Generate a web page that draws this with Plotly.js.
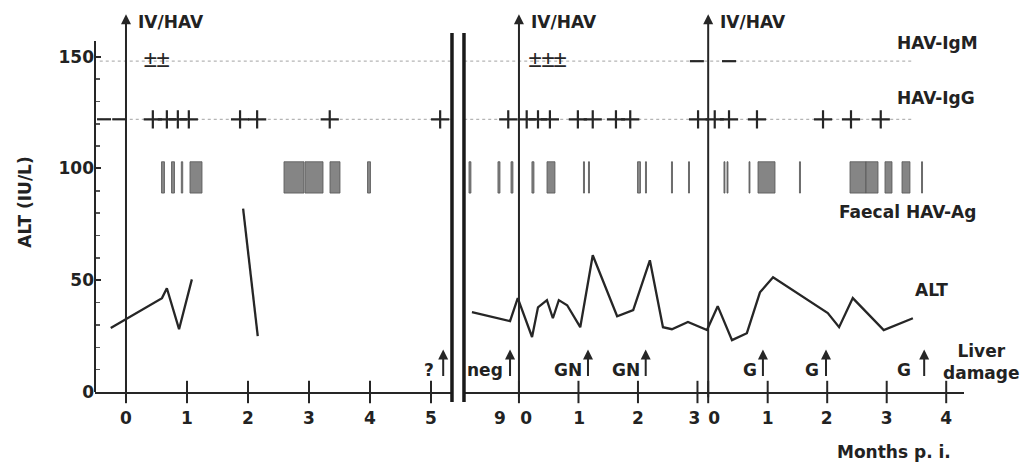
<!DOCTYPE html>
<html><head><meta charset="utf-8">
<script src="https://cdn.plot.ly/plotly-3.0.1.min.js"></script>
<style>html,body{margin:0;padding:0;background:#fff;}#chart{width:1021px;height:465px;}</style>
</head><body><div id="chart"></div>
<script>
// ---------------- data ----------------
// Segment 1: months after 1st IV/HAV inoculation
const alt1aMonths = [-0.25, 0.59, 0.67, 0.87, 1.08];
const alt1aValues = [28.6, 42.0, 46.4, 28.1, 50.4];
const alt1bMonths = [1.92, 2.16];
const alt1bValues = [82.0, 25.0];
// Segment 2: months after 2nd IV/HAV inoculation (3rd inoculation at 3.18)
const alt2Months = [-0.79,-0.15,-0.02,0.22,0.32,0.47,0.57,0.67,0.81,1.03,1.24,1.65,1.92,2.20,2.42,2.57,2.84,3.16,3.34,3.58,3.83,4.05,4.27,5.19,5.38,5.61,6.13,6.62];
const alt2Values = [35.7,31.7,42.0,24.6,37.9,41.1,33.0,41.1,38.8,29.0,61.2,33.9,36.6,58.9,29.0,28.1,31.3,27.7,38.4,23.2,26.3,44.6,51.3,35.3,29.0,42.0,27.7,33.0];
const inoculations1 = [0];
const inoculations2 = [0, 3.18];
// HAV-IgG results
const iggPos1 = [0.44,0.67,0.85,1.03,1.87,2.15,3.34,5.15];
const iggNeg1 = [-0.36,-0.11];
const iggPos2 = [-0.18,0.13,0.32,0.52,0.99,1.24,1.63,1.87,3.01,3.29,3.53,4.00,5.11,5.58,6.08];
// HAV-IgM results
const igmEq1 = [0.40,0.61];
const igmEq2 = [0.27,0.49,0.69];
const igmNeg2 = [2.99,3.53];
// Faecal HAV-Ag positive periods (start, end in months)
const agStart1 = [0.582,0.746,0.907,1.049,2.590,2.934,3.344,3.959];
const agEnd1   = [0.631,0.795,0.930,1.246,2.918,3.230,3.508,4.008];
const agStart2 = [-0.840,-0.353,-0.134,0.218,0.471,1.084,1.168,1.992,2.126,2.563,2.849,3.445,3.496,3.866,4.017,4.714,5.563,5.832,6.151,6.437,6.765];
const agEnd2   = [-0.807,-0.319,-0.101,0.252,0.605,1.101,1.185,2.042,2.143,2.580,2.866,3.462,3.513,3.882,4.303,4.731,5.832,6.034,6.269,6.571,6.782];
// Liver damage (biopsy) markers
const liverMonths1 = [5.2];
const liverLabelPos1 = [4.97];
const liverLabels1 = ['?'];
const liverMonths2 = [-0.15,1.16,2.13,4.10,5.16,6.81];
const liverLabelPos2 = [-0.57,0.82,1.80,3.89,4.92,6.47];
const liverLabels2 = ['neg','GN','GN','G','G','G'];
// rows / levels
const rowIgM = 148, rowIgG = 122, agLow = 89, agHigh = 103;
const rowStart1 = -0.43, rowEnd1 = 5.344, rowStart2 = -0.92, rowEnd2 = 6.6;
const liverArrowLow = 6.5, liverArrowHigh = 19, liverLabelY = 10;
const ivArrowTop = 169, ivLabelY = 165.7, yAxisTop = 157;
// ticks
const seg1TickVals = [0,1,2,3,4,5];
const seg1TickText = ['0','1','2','3','4','5'];
const seg2TickMarks = [0,1,2,3,3.18,4.18,5.18,6.18,7.18];
const seg2LabelPos = [-0.32,0.12,1.01,2.0,2.95,3.28,4.18,5.17,6.18,7.18];
const seg2LabelText = ['9','0','1','2','3','0','1','2','3','4'];
const yMajor = [0,50,100,150];
const yMinor = [10,20,30,40,60,70,80,90,110,120,130,140];

// ---------------- styling ----------------
const INK = '#262626';
const TXT = {family:'DejaVu Sans', size:17, color:'#222', weight:'bold'};

const center = (s,e) => s.map((v,i)=>(v+e[i])/2);
const widths = (s,e) => s.map((v,i)=>e[i]-v);
const plusMarker = {symbol:'cross-thin-open', size:13, color:INK, line:{color:INK, width:2.2}};
const dashMarker = {symbol:'line-ew-open', size:10, color:INK, line:{color:INK, width:2.2}};
const tickMarker = {symbol:'line-ns-open', size:16, color:INK, line:{color:INK, width:2}};
const pmFont = {family:'Liberation Sans', size:24, color:INK};

const traces = [
  // Faecal HAV-Ag bars
  {type:'bar', xaxis:'x', yaxis:'y', x:center(agStart1,agEnd1), width:widths(agStart1,agEnd1),
   base:agStart1.map(()=>agLow), y:agStart1.map(()=>agHigh-agLow),
   marker:{color:'#858585', line:{color:'#555', width:0.8}}, hoverinfo:'skip'},
  {type:'bar', xaxis:'x2', yaxis:'y', x:center(agStart2,agEnd2), width:widths(agStart2,agEnd2),
   base:agStart2.map(()=>agLow), y:agStart2.map(()=>agHigh-agLow),
   marker:{color:'#858585', line:{color:'#555', width:0.8}}, hoverinfo:'skip'},
  // ALT lines
  {type:'scatter', mode:'lines', xaxis:'x', yaxis:'y', x:alt1aMonths, y:alt1aValues, line:{color:INK, width:2.3}},
  {type:'scatter', mode:'lines', xaxis:'x', yaxis:'y', x:alt1bMonths, y:alt1bValues, line:{color:INK, width:2.3}},
  {type:'scatter', mode:'lines', xaxis:'x2', yaxis:'y', x:alt2Months, y:alt2Values, line:{color:INK, width:2.3}},
  // IgG +
  {type:'scatter', mode:'markers', xaxis:'x', yaxis:'y', x:iggPos1, y:iggPos1.map(()=>rowIgG), cliponaxis:false, marker:plusMarker},
  {type:'scatter', mode:'markers', xaxis:'x2', yaxis:'y', x:iggPos2, y:iggPos2.map(()=>rowIgG), cliponaxis:false, marker:plusMarker},
  // IgG -
  {type:'scatter', mode:'markers', xaxis:'x', yaxis:'y', x:iggNeg1, y:iggNeg1.map(()=>rowIgG), cliponaxis:false, marker:dashMarker},
  // IgM ±
  {type:'scatter', mode:'text', xaxis:'x', yaxis:'y', x:igmEq1, y:igmEq1.map(()=>rowIgM), text:igmEq1.map(()=>'±'),
   textposition:'middle center', cliponaxis:false, textfont:pmFont},
  {type:'scatter', mode:'text', xaxis:'x2', yaxis:'y', x:igmEq2, y:igmEq2.map(()=>rowIgM), text:igmEq2.map(()=>'±'),
   textposition:'middle center', cliponaxis:false, textfont:pmFont},
  // IgM -
  {type:'scatter', mode:'markers', xaxis:'x2', yaxis:'y', x:igmNeg2, y:igmNeg2.map(()=>rowIgM), cliponaxis:false, marker:dashMarker},
  // crossing tick marks on the x axes
  {type:'scatter', mode:'markers', xaxis:'x', yaxis:'y', x:seg1TickVals, y:seg1TickVals.map(()=>0), cliponaxis:false, marker:tickMarker},
  {type:'scatter', mode:'markers', xaxis:'x2', yaxis:'y', x:seg2TickMarks, y:seg2TickMarks.map(()=>0), cliponaxis:false, marker:tickMarker}
];

const annotations = [];
// IV/HAV inoculation arrows + labels
function inoc(axis, months){
  months.forEach(m=>{
    annotations.push({xref:axis, yref:'y', axref:axis, ayref:'y', x:m, y:ivArrowTop, ax:m, ay:-3, text:'',
      showarrow:true, arrowhead:2, arrowsize:1, arrowwidth:2, arrowcolor:INK, standoff:0, startstandoff:0});
    annotations.push({xref:axis, yref:'y', x:m, y:ivLabelY, text:'IV/HAV', showarrow:false, xanchor:'left', xshift:10, font:TXT});
  });
}
inoc('x', inoculations1);
inoc('x2', inoculations2);
// liver damage arrows + labels
function liver(axis, months, pos, labels){
  months.forEach((m,i)=>{
    annotations.push({xref:axis, yref:'y', axref:axis, ayref:'y', x:m, y:liverArrowHigh, ax:m, ay:liverArrowLow, text:'',
      showarrow:true, arrowhead:2, arrowsize:1, arrowwidth:2, arrowcolor:INK, standoff:0});
    annotations.push({xref:axis, yref:'y', x:pos[i], y:liverLabelY, text:labels[i], showarrow:false, xanchor:'center', font:TXT});
  });
}
liver('x', liverMonths1, liverLabelPos1, liverLabels1);
liver('x2', liverMonths2, liverLabelPos2, liverLabels2);
// row labels
annotations.push({xref:'paper', yref:'y', x:0.9206, y:156.2, text:'HAV-IgM', showarrow:false, xanchor:'left', font:TXT});
annotations.push({xref:'paper', yref:'y', x:0.9206, y:131.5, text:'HAV-IgG', showarrow:false, xanchor:'left', font:TXT});
annotations.push({xref:'paper', yref:'y', x:0.854, y:80.5, text:'Faecal HAV-Ag', showarrow:false, xanchor:'left', font:TXT});
annotations.push({xref:'paper', yref:'y', x:0.941, y:45.6, text:'ALT', showarrow:false, xanchor:'left', font:TXT});
annotations.push({xref:'paper', yref:'y', x:1.0207, y:13.4, text:'Liver<br>damage', showarrow:false, xanchor:'center', font:TXT});
annotations.push({xref:'paper', yref:'paper', x:0.92, y:-0.158, text:'Months p. i.', showarrow:false, xanchor:'center', yanchor:'middle', font:TXT});

const shapes = [
  // y axis line
  {type:'line', xref:'paper', yref:'y', x0:0, x1:0, y0:0, y1:yAxisTop, line:{color:INK, width:2}},
  // axis break (double bar)
  {type:'line', xref:'x domain', yref:'paper', x0:1, x1:1, y0:-0.026, y1:0.945, line:{color:'#1a1a1a', width:3.5}},
  {type:'line', xref:'x2 domain', yref:'paper', x0:0, x1:0, y0:-0.026, y1:0.945, line:{color:'#1a1a1a', width:3.5}},
  // dotted guide rows
  {type:'line', xref:'x', yref:'y', x0:rowStart1, x1:rowEnd1, y0:rowIgM, y1:rowIgM, line:{color:'#b5b5b5', width:1.3, dash:'dot'}, layer:'below'},
  {type:'line', xref:'x2', yref:'y', x0:rowStart2, x1:rowEnd2, y0:rowIgM, y1:rowIgM, line:{color:'#b5b5b5', width:1.3, dash:'dot'}, layer:'below'},
  {type:'line', xref:'x', yref:'y', x0:rowStart1, x1:rowEnd1, y0:rowIgG, y1:rowIgG, line:{color:'#b5b5b5', width:1.3, dash:'dot'}, layer:'below'},
  {type:'line', xref:'x2', yref:'y', x0:rowStart2, x1:rowEnd2, y0:rowIgG, y1:rowIgG, line:{color:'#b5b5b5', width:1.3, dash:'dot'}, layer:'below'}
];

const xCommon = {showline:true, linecolor:INK, linewidth:2, showgrid:false, zeroline:false, tickmode:'array',
  ticks:'outside', ticklen:10, tickcolor:'rgba(0,0,0,0)', tickangle:0, tickfont:TXT, fixedrange:true};

const layout = {
  width:1021, height:465, margin:{l:95, r:57, t:12, b:73},
  paper_bgcolor:'#fff', plot_bgcolor:'#fff', showlegend:false, barmode:'overlay',
  xaxis: Object.assign({}, xCommon, {domain:[0,0.4108], range:[-0.508,5.344], anchor:'y', tickvals:seg1TickVals, ticktext:seg1TickText}),
  xaxis2: Object.assign({}, xCommon, {domain:[0.4246,1], range:[-0.924,7.479], anchor:'y', tickvals:seg2LabelPos, ticktext:seg2LabelText}),
  yaxis: {range:[0,170], showline:false, zeroline:false, showgrid:false, tickmode:'array', tickvals:yMajor,
    ticktext:yMajor.map(String), ticks:'inside', ticklen:6, tickwidth:2, tickcolor:INK, tickfont:TXT,
    minor:{tickmode:'array', tickvals:yMinor, ticks:'inside', ticklen:5, tickwidth:1.5, tickcolor:'#555', showgrid:false},
    title:{text:'ALT (IU/L)', font:TXT, standoff:22}, fixedrange:true},
  annotations: annotations, shapes: shapes
};

Plotly.newPlot('chart', traces, layout, {staticPlot:true, displayModeBar:false});
</script>
</body></html>
